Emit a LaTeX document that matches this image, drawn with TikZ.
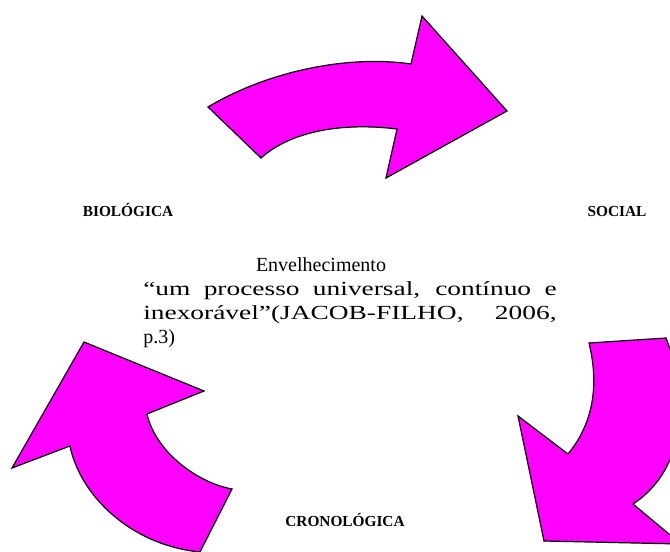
\documentclass[tikz,border=0pt]{standalone}
\usepackage{fontspec}
\setmainfont{Liberation Serif}
\usetikzlibrary{positioning}

\definecolor{arrowpink}{RGB}{255,0,255}
\newcommand{\fullline}[1]{\scalebox{1.37}[1]{\makebox[226.3pt][s]{#1}}}
\tikzset{
  bentarrow/.style={draw=black, fill=arrowpink, line width=0.9pt, line join=miter},
  aspect/.style={font=\fontsize{11.5}{13}\selectfont\bfseries, inner sep=0pt, anchor=base},
  quoteline/.style={font=\fontsize{15}{18}\selectfont, inner sep=0pt, anchor=base west}
}

\begin{document}
\begin{tikzpicture}[x=0.75pt,y=-0.75pt]
              \useasboundingbox (0,0) rectangle (670,552);
              \begin{scope}
              \clip (0,0) rectangle (670,552);
              % top arrow, pointing right
              \draw[bentarrow] (208,107) .. controls (270,70) and (350,55) .. (411,64)
                -- (422,16) -- (507,111) -- (386,178) -- (397,129)
                .. controls (340,122) and (290,132) .. (261,158) -- cycle;
              % right arrow, pointing down
              \draw[bentarrow] (666,338) .. controls (690,400) and (685,470) .. (633,504)
                -- (681,544) -- (544,541) -- (518,416) -- (568,454)
                .. controls (596,420) and (598,380) .. (589,343) -- cycle;
              % left arrow, pointing up
              \draw[bentarrow] (70,446) .. controls (80,495) and (130,545) .. (200,552)
                -- (232,489) .. controls (195,482) and (155,450) .. (147,414)
                -- (204,391) -- (84,342) -- (12,468) -- cycle;
              \end{scope}
              % labels
              \node[aspect] (bio) at (128,217) {BIOLÓGICA};
              \node[aspect] (social) at (617,217) {SOCIAL};
              \node[aspect] (crono) at (345,526) {CRONOLÓGICA};
              \node[quoteline, anchor=base] (title) at (321,271) {Envelhecimento};
              \node[quoteline] (quoteA) at (143,295) {\fullline{“um processo universal, contínuo e}};
              \node[quoteline] (quoteB) at (143,319) {\fullline{inexorável”(JACOB-FILHO, 2006,}};
              \node[quoteline] (quoteC) at (143,343) {p.3)};
\end{tikzpicture}
\end{document}
